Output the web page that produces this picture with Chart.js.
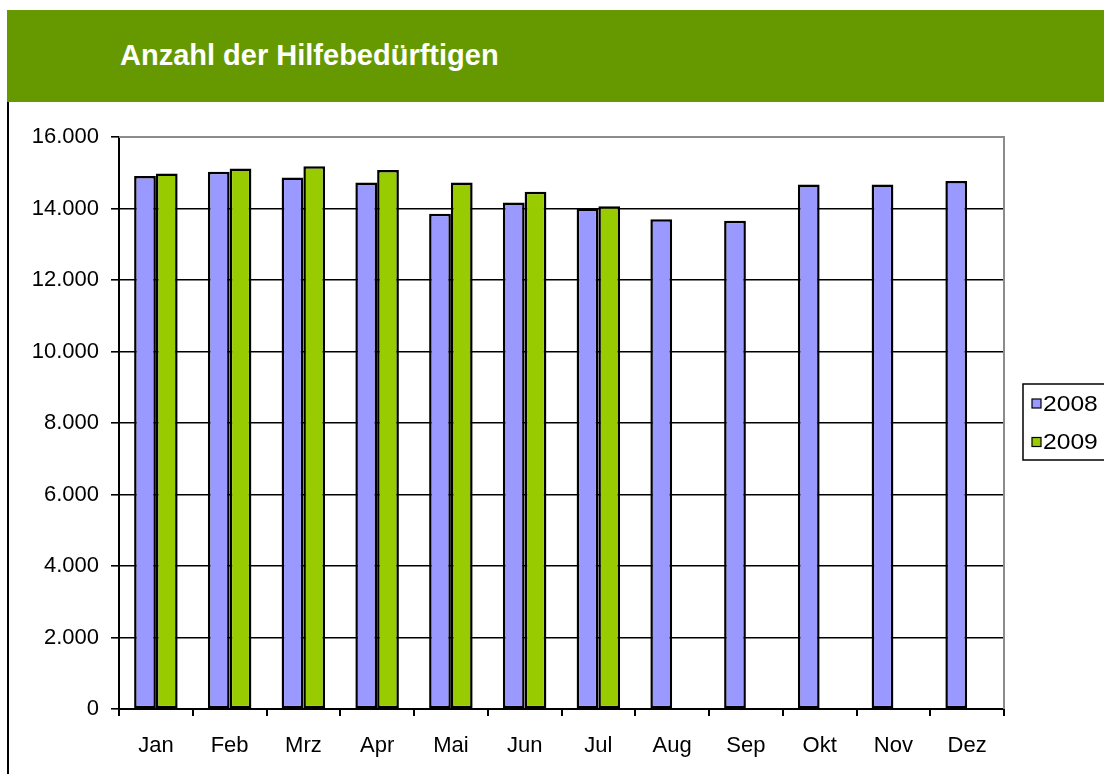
<!DOCTYPE html>
<html>
<head>
<meta charset="utf-8">
<script src="https://cdn.jsdelivr.net/npm/chart.js@4"></script>
<style>
  html, body { margin: 0; padding: 0; background: #fff; }
  body { width: 1104px; height: 774px; position: relative; overflow: hidden; font-family: Arial, "Liberation Sans", sans-serif; }
  .header { position: absolute; left: 7px; top: 10px; width: 1097px; height: 92px; background: #669900; }
  .header h1 { margin: 0; position: absolute; left: 113px; top: -1px; line-height: 92px; font-size: 29px; font-weight: bold; color: #fff; }
  .frame { position: absolute; left: 7px; top: 102px; width: 2px; height: 672px; background: #000; }
  .wrap { position: absolute; left: 9px; top: 102px; width: 1095px; height: 672px; }
</style>
</head>
<body>
<div class="header"><h1>Anzahl der Hilfebedürftigen</h1></div>
<div class="frame"></div>
<div class="wrap"><canvas id="hilfeChart"></canvas></div>
<script>
const months = ["Jan", "Feb", "Mrz", "Apr", "Mai", "Jun", "Jul", "Aug", "Sep", "Okt", "Nov", "Dez"];
const values2008 = [14910, 15030, 14870, 14730, 13850, 14170, 14000, 13700, 13660, 14670, 14670, 14770];
const values2009 = [14980, 15120, 15180, 15080, 14730, 14470, 14060, null, null, null, null, null];
const seriesNames = ["2008", "2009"];
const yTicks = [0, 2000, 4000, 6000, 8000, 10000, 12000, 14000, 16000];

const fontFamily = 'Arial, "Liberation Sans", sans-serif';
const fmt = v => v.toLocaleString("de-DE");

// grey frame on top and right of the plot area
const plotFrame = {
  id: "plotFrame",
  beforeDatasetsDraw(chart) {
    const { ctx, chartArea: a } = chart;
    ctx.save();
    ctx.strokeStyle = "#8c8c8c";
    ctx.lineWidth = 2;
    ctx.beginPath();
    ctx.moveTo(a.left, a.top);
    ctx.lineTo(a.right, a.top);
    ctx.lineTo(a.right, a.bottom);
    ctx.stroke();
    ctx.restore();
  }
};

// boxed legend on the right, like the Excel one
const boxLegend = {
  id: "boxLegend",
  afterDraw(chart) {
    const { ctx } = chart;
    const x = 1014, y = 282;
    ctx.save();
    ctx.strokeStyle = "#000";
    ctx.lineWidth = 1.5;
    ctx.strokeRect(x, y, 120, 76);
    chart.data.datasets.forEach((ds, i) => {
      const cy = y + 19.5 + i * 38.5;
      ctx.fillStyle = ds.backgroundColor;
      ctx.fillRect(x + 9, cy - 4.5, 9, 9);
      ctx.lineWidth = 1.2;
      ctx.strokeRect(x + 9, cy - 4.5, 9, 9);
      ctx.fillStyle = "#000";
      ctx.font = "22px " + fontFamily;
      ctx.textBaseline = "middle";
      ctx.save();
      ctx.translate(x + 20, cy + 1);
      ctx.scale(1.12, 1);
      ctx.fillText(ds.label, 0, 0);
      ctx.restore();
    });
    ctx.restore();
  }
};

new Chart(document.getElementById("hilfeChart"), {
  type: "bar",
  data: {
    labels: months,
    datasets: [
      {
        label: seriesNames[0],
        data: values2008,
        backgroundColor: "#9999ff",
        borderColor: "#000",
        borderWidth: 2.5,
        borderSkipped: false
      },
      {
        label: seriesNames[1],
        data: values2009,
        backgroundColor: "#99cc00",
        borderColor: "#000",
        borderWidth: 2.5,
        borderSkipped: false
      }
    ]
  },
  options: {
    responsive: true,
    maintainAspectRatio: false,
    animation: false,
    categoryPercentage: 0.59,
    barPercentage: 1.0,
    layout: { padding: { top: 35, right: 100, left: 0, bottom: 0 } },
    plugins: {
      legend: { display: false },
      tooltip: { enabled: false }
    },
    scales: {
      x: {
        grid: {
          drawOnChartArea: false,
          color: "#000",
          lineWidth: 2,
          tickLength: 7
        },
        border: { color: "#000", width: 2 },
        ticks: {
          color: "#000",
          font: { family: fontFamily, size: 22 },
          padding: 17,
          maxRotation: 0
        },
        afterFit(scale) { scale.height = 65; }
      },
      y: {
        min: 0,
        max: 16000,
        afterBuildTicks(scale) { scale.ticks = yTicks.map(v => ({ value: v })); },
        grid: {
          color: ctx => ctx.tick && ctx.tick.value === 16000 ? "rgba(0,0,0,0)" : "#000",
          lineWidth: 1.6,
          tickLength: 8,
          tickColor: "#000"
        },
        border: { color: "#000", width: 2 },
        ticks: {
          color: "#000",
          font: { family: fontFamily, size: 22 },
          padding: 12,
          callback: v => fmt(v)
        },
        afterFit(scale) { scale.width = 110; }
      }
    }
  },
  plugins: [plotFrame, boxLegend]
});
</script>
</body>
</html>
